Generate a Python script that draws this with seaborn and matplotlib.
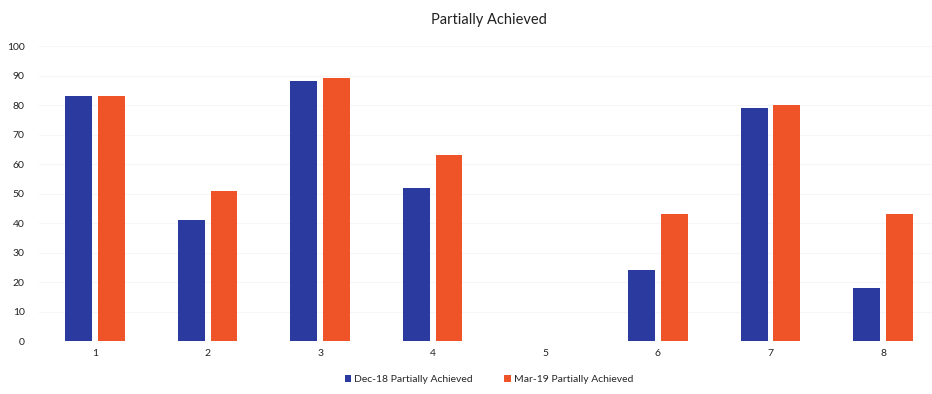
import seaborn as sns
import matplotlib.pyplot as plt
import pandas as pd

# values
categories = ['1', '2', '3', '4', '5', '6', '7', '8']
dec18 = [83, 41, 88, 52, 0, 24, 79, 18]
mar19 = [83, 51, 89, 63, 0, 43, 80, 43]
series = ['Dec-18 Partially Achieved', 'Mar-19 Partially Achieved']

df = pd.DataFrame({
    'cat': categories * 2,
    'value': dec18 + mar19,
    'series': [series[0]] * len(categories) + [series[1]] * len(categories),
})

sns.set_style('white')
plt.rcParams['font.family'] = ['Lato', 'DejaVu Sans']

fig, ax = plt.subplots(figsize=(9.32, 3.94), dpi=100)
fig.subplots_adjust(left=0.0415, right=1.008, bottom=0.1345, top=0.8832)

sns.barplot(data=df, x='cat', y='value', hue='series',
            palette=['#2b3a9e', '#ef5428'], width=0.58, gap=0.18,
            saturation=1, linewidth=0, ax=ax)

ax.set_ylim(0, 100)
ax.set_yticks(range(0, 101, 10))
ax.set_xlim(-0.5, 7.5)
ax.yaxis.grid(True, color='#f6f6f6', linewidth=0.8)
ax.set_axisbelow(True)
for s in ax.spines.values():
    s.set_visible(False)
ax.tick_params(axis='both', length=0, labelsize=7.5, colors='#222222')
ax.tick_params(axis='y', pad=10)
ax.tick_params(axis='x', pad=6)
ax.set_xlabel('')
ax.set_ylabel('')
ax.set_title('Partially Achieved', fontsize=10.5, color='#222222', pad=16)

ax.legend(loc='upper center', bbox_to_anchor=(0.5, -0.085), ncol=2,
          frameon=False, fontsize=7.5, handlelength=0.6, handleheight=0.6,
          columnspacing=3, handletextpad=0.3)

fig.savefig('out.png', dpi=100)
